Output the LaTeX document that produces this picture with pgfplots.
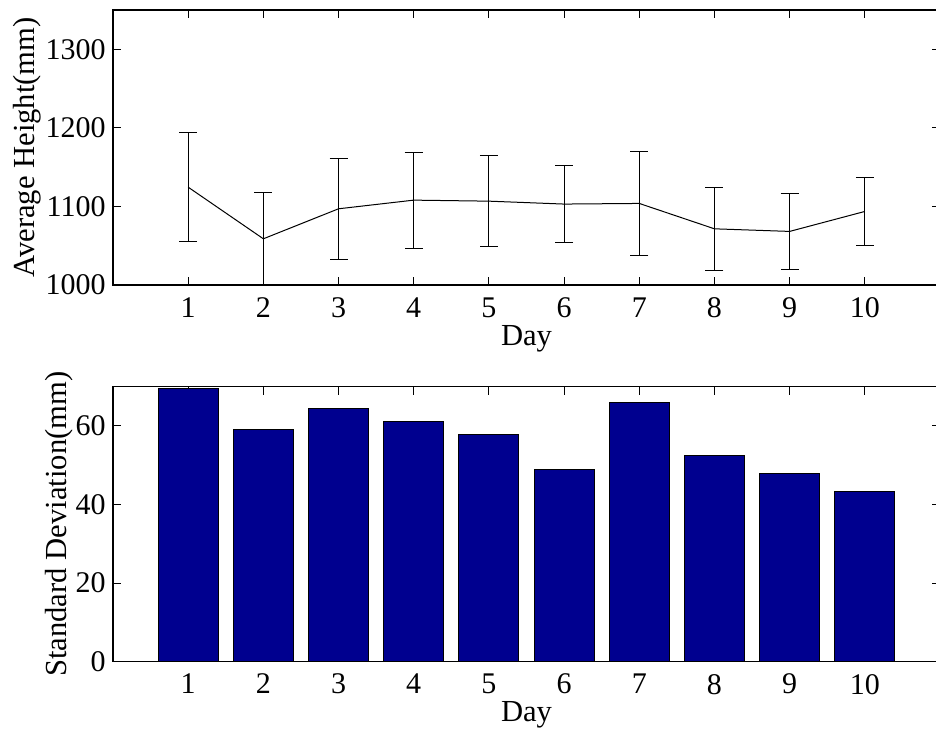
\documentclass[border=0pt]{standalone}
\usepackage{pgfplots}
\pgfplotsset{compat=1.18}
\usepackage{pgfplotstable}
\usepackage{fontspec}
\setmainfont{Liberation Serif}
\definecolor{mblue}{RGB}{0,0,143}
\pgfplotstableread{
day mean sd
1 1124.5 69.5
2 1058.8 59.1
3 1097.0 64.5
4 1108.0 61.2
5 1106.7 57.9
6 1103.0 49.0
7 1103.8 65.9
8 1071.5 52.5
9 1068.2 47.9
10 1093.6 43.4
}\datatable
\begin{document}
\fontsize{15}{18}\selectfont
\begin{tikzpicture}
\pgfplotsset{
  every axis/.append style={
    scale only axis,
    width=413.5pt, height=137.5pt,
    xmin=0, xmax=11,
    xtick={1,...,10},
    tick align=inside,
    major tick length=4pt,
    axis line style={line width=0.6pt},
    every tick/.style={black, line width=0.5pt},
    tick label style={font=\fontsize{15}{18}\selectfont},
    yticklabel style={xshift=1.5pt},
    xticklabel style={yshift=-1pt},
    label style={font=\fontsize{15.3}{18}\selectfont},
    /pgf/number format/assume math mode=true,
    /pgf/number format/1000 sep={},
    xlabel={Day},
    xlabel style={yshift=6.5pt},
  }
}
\begin{axis}[
  at={(56.5pt,-142.5pt)}, anchor=south west,
  ymin=1000, ymax=1350,
  ytick={1000,1100,1200,1300},
  ylabel={Average Height(mm)},
  ylabel style={at={(axis description cs:-0.074,0.5)}, anchor=south},
]
\addplot[black, line width=0.5pt, mark=none,
  error bars/.cd, y dir=both, y explicit,
  error mark options={black, line width=0.5pt, mark size=4.5pt, rotate=90},
  error bar style={black, line width=0.5pt}]
  table[x=day, y=mean, y error=sd] {\datatable};
\end{axis}
\begin{axis}[
  at={(56.5pt,-330.85pt)}, anchor=south west,
  ymin=0, ymax=70,
  ytick={0,20,40,60},
  ylabel={Standard Deviation(mm)},
  ylabel style={at={(axis description cs:-0.036,0.5)}, anchor=south},
]
\addplot[ybar, bar width=0.8, fill=mblue, draw=black, line width=0.5pt]
  table[x=day, y=sd] {\datatable};
\end{axis}
\pgfresetboundingbox
\path[use as bounding box] (0pt,0pt) rectangle (468pt,-365.5pt);
\end{tikzpicture}
\end{document}
